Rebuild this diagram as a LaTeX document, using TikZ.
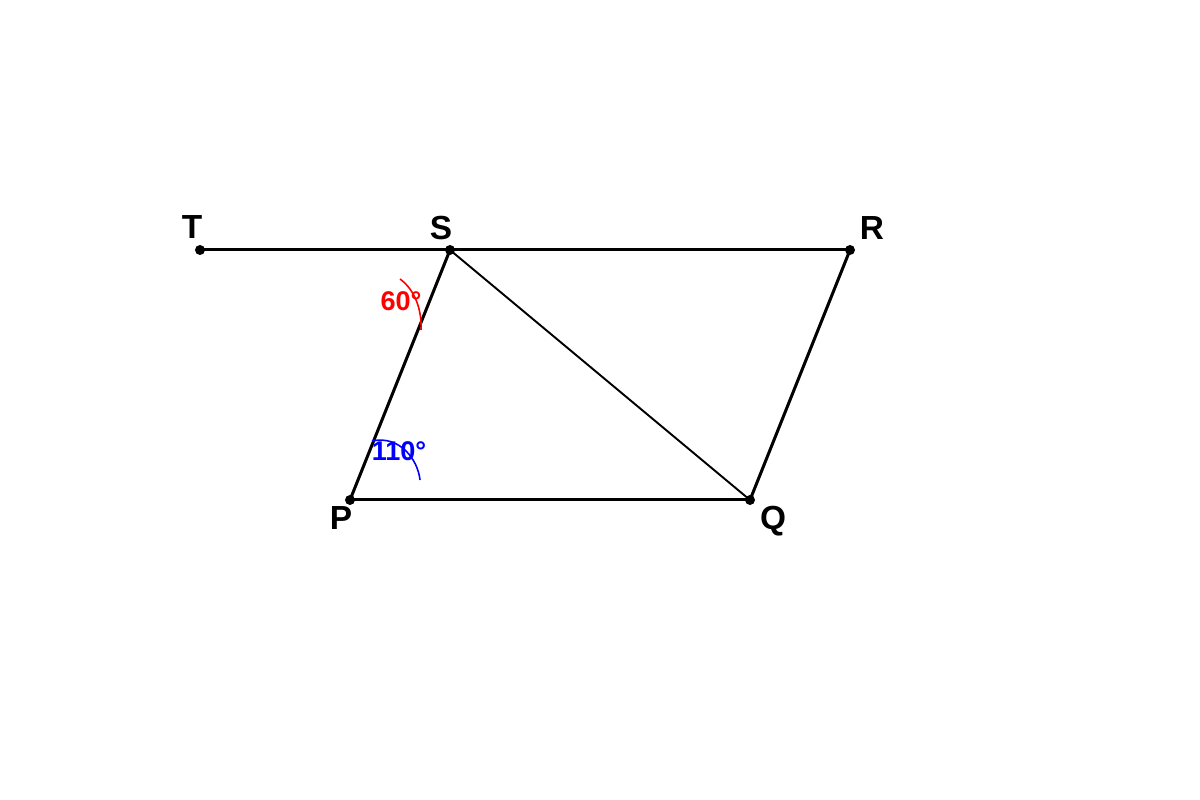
\documentclass[tikz,border=0pt]{standalone}
\usepackage{fontspec}
\setmainfont{Liberation Sans}

\begin{document}
\begin{tikzpicture}
    \tikzset{
        side/.style={line width=0.85pt},
        diag/.style={line width=0.55pt},
        dot/.style={circle,fill,inner sep=0pt,minimum size=0.1cm},
        vname/.style={font=\fontsize{9.5}{11}\selectfont\bfseries},
        ang/.style={font=\fontsize{7.7}{9}\selectfont\bfseries,inner sep=0pt}
    }
    \useasboundingbox (0,0) rectangle (12,8);

    \coordinate (T) at (2,5.5);
    \coordinate (S) at (4.5,5.5);
    \coordinate (R) at (8.5,5.5);
    \coordinate (P) at (3.5,3);
    \coordinate (Q) at (7.5,3);

    \draw[side] (T) -- (S);
    \draw[side] (S) -- (R);
    \draw[side] (R) -- (Q);
    \draw[side] (Q) -- (P);
    \draw[side] (P) -- (S);
    \draw[diag] (S) -- (Q);

    \node[dot] (dT) at (T) {};
    \node[dot] (dS) at (S) {};
    \node[dot] (dR) at (R) {};
    \node[dot] (dP) at (P) {};
    \node[dot] (dQ) at (Q) {};

    \node[vname] (lT) at ([xshift=-0.08cm,yshift=0.23cm] T) {T};
    \node[vname] (lS) at ([xshift=-0.09cm,yshift=0.22cm] S) {S};
    \node[vname] (lR) at ([xshift=0.22cm,yshift=0.22cm] R) {R};
    \node[vname] (lP) at ([xshift=-0.09cm,yshift=-0.18cm] P) {P};
    \node[vname] (lQ) at ([xshift=0.23cm,yshift=-0.21cm] Q) {Q};

    % angle marks
    \draw[red,line width=0.45pt] (4.00,5.21) .. controls (4.15,5.10) and (4.22,4.90) .. (4.21,4.70);
    \node[ang,red] (aS) at (4.01,4.99) {60°};
    \draw[blue,line width=0.45pt] (3.72,3.59) .. controls (4.00,3.65) and (4.18,3.40) .. (4.20,3.20);
    \node[ang,blue] (aP) at (3.99,3.49) {110°};
\end{tikzpicture}
\end{document}
